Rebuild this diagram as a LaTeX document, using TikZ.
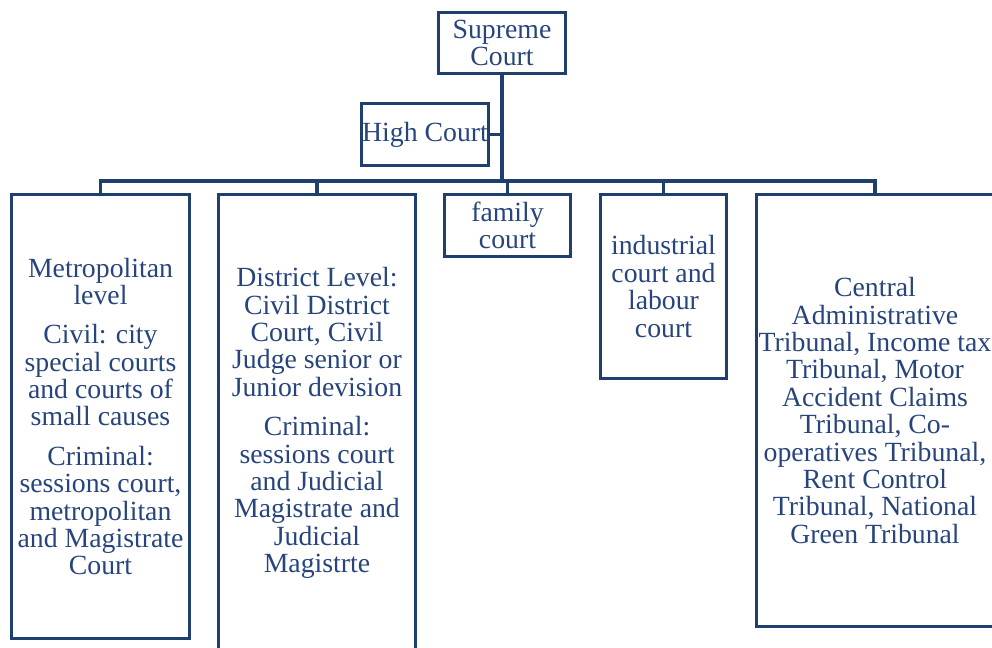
\documentclass[tikz,border=0pt]{standalone}
\usepackage{fontspec}
\setmainfont{Liberation Serif}
\usepackage{xcolor}
\usepackage{tikz}
\usetikzlibrary{positioning,calc}
\definecolor{courtblue}{HTML}{1F3F6F}
\definecolor{courttext}{HTML}{27457C}

\begin{document}
\begin{tikzpicture}[
  x=0.02cm,y=-0.02cm,
  court/.style={draw=courtblue,line width=1.7pt,text=courttext,inner sep=0pt,align=center,
    font=\fontsize{15.8pt}{15.6pt}\selectfont},
  conn/.style={draw=courtblue,line width=1.8pt}
]
\useasboundingbox (0,0) rectangle (992,648);
\clip (0,0) rectangle (992,648);
\node[court,minimum width=2.54cm,minimum height=1.22cm] (sc) at (502,43) {Supreme\\Court};
\node[court,minimum width=2.54cm,minimum height=1.24cm] (hc) at (425,134.5) {High Court};
\coordinate (bus) at (0,181);
\node[court,minimum width=3.56cm,minimum height=8.88cm] (metro) at (100.5,416.5) {Metropolitan\\level\\[6.8pt]Civil: city\\special courts\\and courts of\\small causes\\[6.8pt]Criminal:\\sessions court,\\metropolitan\\and Magistrate\\Court};
\node[court,minimum width=3.94cm,minimum height=9.14cm] (district) at (317,423) {District Level:\\Civil District\\Court, Civil\\Judge senior or\\Junior devision\\[6.8pt]Criminal:\\sessions court\\and Judicial\\Magistrate and\\Judicial\\Magistrte};
\node[court,minimum width=2.52cm,minimum height=1.24cm] (family) at (507.5,225.5) {family\\court};
\node[court,minimum width=2.52cm,minimum height=3.68cm] (labour) at (663.5,286.5) {industrial\\court and\\labour\\court};
\node[court,minimum width=4.74cm,minimum height=8.64cm] (tribunal) at (875,410.5) {Central\\Administrative\\Tribunal, Income tax\\Tribunal, Motor\\Accident Claims\\Tribunal, Co-\\operatives Tribunal,\\Rent Control\\Tribunal, National\\Green Tribunal};
\draw[conn] (sc.south) -- (sc.south |- bus);
\draw[conn] (hc.east) -- (hc.east -| sc.south);
\draw[conn] (metro.north) -- (metro.north |- bus) -- (tribunal.north |- bus) -- (tribunal.north);
\foreach \n in {district,family,labour} \draw[conn] (\n.north) -- (\n.north |- bus);
\end{tikzpicture}
\end{document}
